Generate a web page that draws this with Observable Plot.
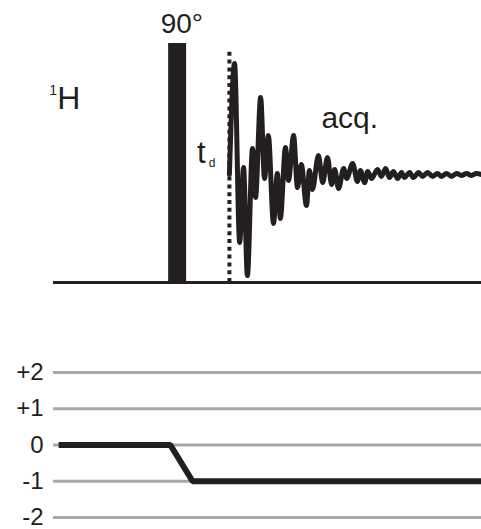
<!DOCTYPE html>
<html>
<head>
<meta charset="utf-8">
<script src="https://cdn.jsdelivr.net/npm/d3@7"></script>
<script src="https://cdn.jsdelivr.net/npm/@observablehq/plot@0.6"></script>
<style>
  html, body { margin: 0; padding: 0; background: #fff; }
  #chart svg { display: block; }
</style>
</head>
<body>
<div id="chart"></div>
<script>
// ---- data (arbitrary time units 0–100, amplitude units 0–100) ----
const pulseStart = 26.9;
const pulseEnd = 31.1;
const pulseHeight = 100;
const pulseLabel = "90°";
const tdTime = 41.1;
const tdTop = 97.5;
const fidTime = [41.1, 42.3, 43.5, 44.4, 45.3, 46.5, 47.2, 48.4, 49.3, 50.2, 51.4, 52.3, 53.0, 54.2, 54.9,
  56.1, 57.0, 57.9, 59.1, 59.8, 60.5, 61.9, 62.9, 64.0, 65.0, 65.7, 66.6, 67.8, 68.5, 69.9, 71.0, 71.7,
  72.7, 73.4, 74.3, 75.7, 76.6, 77.6, 78.5, 79.4, 80.4, 81.3, 82.0, 83.2, 84.1, 85.3, 86.2, 87.4, 88.6,
  89.7, 90.7, 91.8, 93.0, 94.2, 95.3, 96.5, 97.7, 98.8, 100];
const fidValue = [45.2, 91.6, 16.7, 48.1, 2.9, 56.1, 35.6, 77.4, 43.5, 61.5, 24.7, 45.6, 26.8, 56.5, 42.7,
  61.5, 39.7, 49.4, 32.2, 46.9, 38.9, 53.1, 41.8, 52.3, 41.0, 47.3, 39.3, 47.7, 43.5, 49.8, 42.3, 46.9,
  41.8, 46.4, 43.5, 47.3, 44.4, 47.7, 43.9, 46.4, 43.5, 46.0, 43.9, 46.0, 43.9, 46.0, 44.4, 46.0, 44.4,
  45.6, 44.4, 45.6, 44.4, 45.6, 44.8, 45.6, 44.8, 45.6, 45.2];
const channelLabel = "H";
const channelIsotope = "1";
const acqLabel = "acq.";
const tdLabel = "t";
const tdSub = "d";

const levels = [2, 1, 0, -1, -2];
const pathTime = [1.2, 27.3, 32.5, 100];
const pathLevel = [0, 0, -1, -1];

const ink = "#231f20";
const font = "Arial, 'Liberation Sans', Helvetica, sans-serif";

const fid = fidTime.map((t, i) => ({t, v: fidValue[i]}));
const path = pathTime.map((t, i) => ({t, p: pathLevel[i]}));

const topPanel = Plot.plot({
  width: 481,
  height: 290,
  marginLeft: 53,
  marginRight: 0,
  marginTop: 43,
  marginBottom: 8,
  style: {fontFamily: font, background: "#fff", overflow: "visible"},
  x: {domain: [0, 100], axis: null},
  y: {domain: [0, 100], axis: null},
  marks: [
    Plot.rect([0], {x1: pulseStart, x2: pulseEnd, y1: 0, y2: pulseHeight, fill: ink}),
    Plot.ruleX([tdTime], {y1: 0, y2: tdTop, stroke: ink, strokeWidth: 4, strokeDasharray: "4,3.8"}),
    Plot.line(fid, {x: "t", y: "v", stroke: ink, strokeWidth: 5, curve: "monotone-x", strokeLinejoin: "round"}),
    Plot.ruleY([0], {stroke: ink, strokeWidth: 3}),
    Plot.text([pulseLabel], {x: 30.0, y: 104.5, text: d => d, fontSize: 28, fill: ink, lineAnchor: "bottom"}),
    Plot.text([channelIsotope], {x: -1.0, y: 78.5, text: d => d, fontSize: 14, fill: ink, textAnchor: "start", lineAnchor: "bottom"}),
    Plot.text([channelLabel], {x: 0.9, y: 72.6, text: d => d, fontSize: 32, fill: ink, textAnchor: "start", lineAnchor: "bottom"}),
    Plot.text([acqLabel], {x: 62.6, y: 64.6, text: d => d, fontSize: 30, fill: ink, textAnchor: "start", lineAnchor: "bottom"}),
    Plot.text([tdLabel], {x: 33.5, y: 50.2, text: d => d, fontSize: 31, fill: ink, textAnchor: "start", lineAnchor: "bottom"}),
    Plot.text([tdSub], {x: 36.3, y: 48.3, text: d => d, fontSize: 12, fill: ink, textAnchor: "start", lineAnchor: "bottom"})
  ]
});

const bottomPanel = Plot.plot({
  width: 481,
  height: 239,
  marginLeft: 53,
  marginRight: 0,
  marginTop: 82,
  marginBottom: 12,
  style: {fontFamily: font, background: "#fff", overflow: "visible"},
  x: {domain: [0, 100], axis: null},
  y: {domain: [-2, 2], axis: null},
  marks: [
    Plot.ruleY(levels, {stroke: "#a7a9ac", strokeWidth: 3}),
    Plot.axisY({ticks: levels, tickSize: 0, tickPadding: 10, fontSize: 24, fill: ink,
      tickFormat: d => d > 0 ? "+" + d : String(d), label: null}),
    Plot.line(path, {x: "t", y: "p", stroke: ink, strokeWidth: 6, strokeLinejoin: "miter", strokeLinecap: "butt"})
  ]
});

document.getElementById("chart").append(topPanel, bottomPanel);
</script>
</body>
</html>
